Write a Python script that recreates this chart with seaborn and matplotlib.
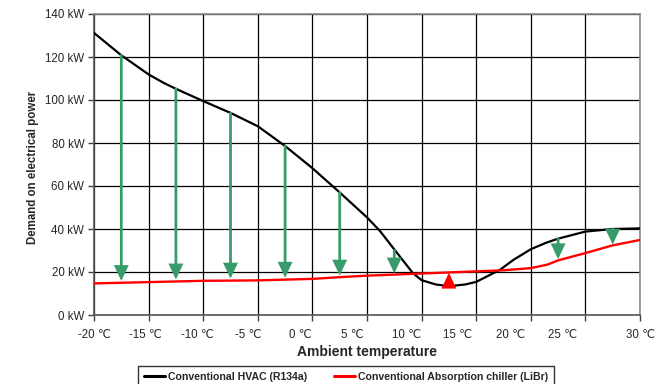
import numpy as np
import pandas as pd
import matplotlib
matplotlib.use("Agg")
import matplotlib.pyplot as plt
from matplotlib.lines import Line2D
import seaborn as sns

# ---- data ----
temp_hvac = [-20, -17.5, -15, -13.6, -12.5, -10, -7.5, -5, -2.5, 0, 2.5, 5, 6.2, 7.5,
             9.2, 10, 11.3, 12.5, 14, 15, 16.2, 17.2, 18.4, 20, 21.4, 22.5, 25, 27.5, 30]
hvac = [131.2, 120.8, 111.9, 107.9, 105.2, 99.5, 94.0, 87.8, 78.6, 68.3, 57.0, 45.4, 39.0, 30.5,
        19.5, 16.2, 14.2, 13.4, 14.2, 15.4, 18.5, 21.1, 25.6, 30.6, 33.6, 35.5, 38.8, 40.0, 40.3]

temp_abs = [-20, -15, -10, -5, 0, 2.5, 5, 10, 12.5, 15, 17.5, 20, 21.5, 22.5, 25, 27.5, 30]
absorb = [14.7, 15.3, 15.9, 16.1, 16.8, 17.6, 18.3, 19.3, 19.8, 20.3, 20.8, 21.8, 23.4, 25.4, 28.8, 32.4, 34.9]

arrow_x = [-17.5, -12.5, -7.5, -2.5, 2.5, 7.5, 12.5, 22.5, 27.5]
arrow_from = [120.8, 105.2, 94.0, 78.6, 57.0, 30.0, 13.4, 35.5, 40.0]
arrow_to = [15.9, 16.6, 17.0, 17.4, 18.4, 19.4, 19.6, 26.0, 32.8]

x_ticks = [-20, -15, -10, -5, 0, 5, 10, 15, 20, 25, 30]
x_tick_labels = ["-20 \u2103", "-15 \u2103", "-10 \u2103", "-5 \u2103", "0 \u2103", "5 \u2103",
                 "10 \u2103", "15 \u2103", "20 \u2103", "25 \u2103", "30 \u2103"]
# label positions as drawn in the reference (slightly offset from the gridlines)
x_label_pos = [-20, -15.33, -10.57, -5.9, -1.1, 3.7, 8.6, 13.3, 18.1, 22.9, 30]
y_ticks = [0, 20, 40, 60, 80, 100, 120, 140]
y_tick_labels = [f"{v} kW" for v in y_ticks]

series_names = ["Conventional HVAC (R134a)", "Conventional Absorption chiller (LiBr)"]
series_colors = ["black", "#ff0000"]

# ---- plot ----
sns.set_theme(style="white")
plt.rcParams['font.family'] = ['Liberation Sans', 'DejaVu Sans']

fig = plt.figure(figsize=(6.58, 3.84), dpi=100)
ax = fig.add_axes([94/658, 1 - 315/384, (640-94)/658, (315-14)/384])

df_h = pd.DataFrame({"temp": temp_hvac, "power": hvac})
df_a = pd.DataFrame({"temp": temp_abs, "power": absorb})
sns.lineplot(data=df_h, x="temp", y="power", color=series_colors[0], linewidth=1.6,
             ax=ax, zorder=3)
sns.lineplot(data=df_a, x="temp", y="power", color=series_colors[1], linewidth=1.7,
             ax=ax, zorder=3)

for xv, y0, y1 in zip(arrow_x, arrow_from, arrow_to):
    col = "#ff0000" if y1 > y0 else "#389c6a"
    ax.annotate("", xy=(xv, y1), xytext=(xv, y0),
                arrowprops=dict(arrowstyle="-|>,head_length=0.8,head_width=0.38",
                                color=col, lw=2.0, shrinkA=0, shrinkB=0,
                                mutation_scale=10, joinstyle="miter"),
                zorder=4)

ax.set_xlim(-20, 30)
ax.set_ylim(0, 140)
ax.xaxis.remove_overlapping_locs = False
ax.set_xticks(x_ticks)
ax.set_xticklabels([])
ax.set_xticks(x_label_pos, minor=True)
ax.set_xticklabels(x_tick_labels, minor=True, fontsize=8.3)
ax.set_yticks(y_ticks)
ax.set_yticklabels(y_tick_labels, fontsize=8.3)
ax.tick_params(axis="x", which="major", direction="out", length=4, width=1, color="#404040", bottom=True)
ax.tick_params(axis="x", which="minor", length=0, pad=10, bottom=True)
ax.tick_params(axis="y", which="major", direction="out", length=4, width=1, color="#404040", left=True, pad=3)

ax.grid(True, which="major", color="black", linewidth=0.9)
ax.set_axisbelow(True)
for side in ["top", "right"]:
    ax.spines[side].set_color("#8c8c8c")
    ax.spines[side].set_linewidth(1.2)
for side in ["left", "bottom"]:
    ax.spines[side].set_color("#555555")
    ax.spines[side].set_linewidth(1.2)

ax.set_xlabel("Ambient temperature", fontsize=10, fontweight="bold", labelpad=3)
ax.set_ylabel("Demand on electrical power", fontsize=8.3, fontweight="bold")
ax.yaxis.set_label_coords(-0.1, 0.49)

handles = [Line2D([0], [0], color=c, lw=2.2) for c in series_colors]
leg = fig.legend(handles, series_names, loc="upper center", ncol=2,
                 bbox_to_anchor=(346/658, 1 - 366/384), frameon=True, fancybox=False,
                 prop={"weight": "bold", "size": 7.6}, handlelength=2.0, handletextpad=0.25,
                 columnspacing=2.6, borderpad=0.55, borderaxespad=0)
leg.get_frame().set_edgecolor("black")
leg.get_frame().set_linewidth(1.0)

fig.savefig("out.png", dpi=100)
